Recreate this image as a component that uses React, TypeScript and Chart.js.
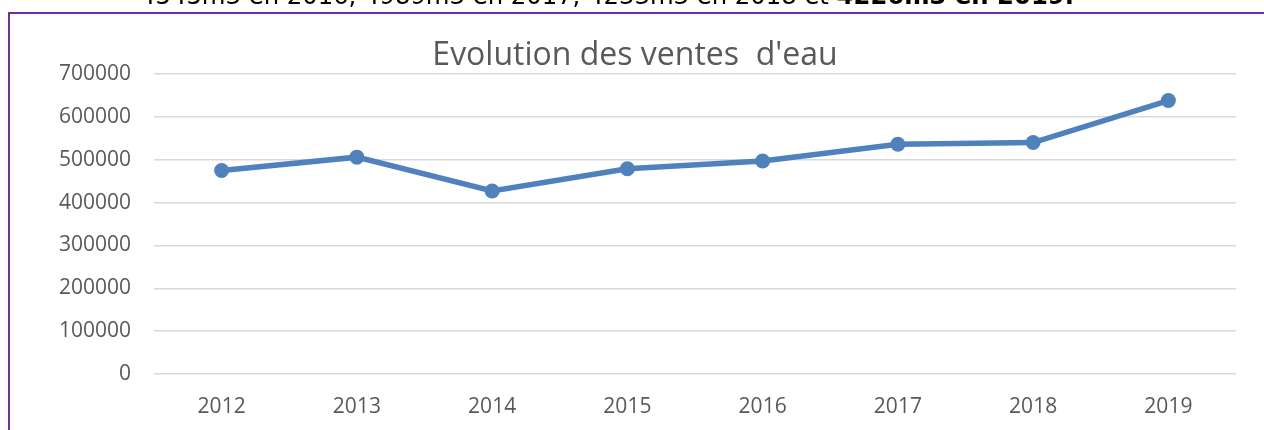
import React, { useEffect, useRef } from "react";
import { Chart, registerables } from "chart.js";

Chart.register(...registerables);

const years: string[] = ["2012", "2013", "2014", "2015", "2016", "2017", "2018", "2019"];
const sales: number[] = [475000, 506000, 427000, 479000, 497000, 536000, 540000, 638000];
const yMin = 0;
const yMax = 700000;
const yStep = 100000;
const chartTitle = "Evolution des ventes  d'eau";
const introText = "4545m3 en 2016, 4989m3 en 2017, 4233m3 en 2018 et ";
const introBold = "4226m3 en 2019.";

export default function App() {
  const ref = useRef<HTMLCanvasElement | null>(null);

  useEffect(() => {
    if (!ref.current) return;
    const chart = new Chart(ref.current, {
      type: "line",
      data: {
        labels: years,
        datasets: [
          {
            data: sales,
            borderColor: "#4F81BD",
            backgroundColor: "#4F81BD",
            borderWidth: 5.5,
            pointRadius: 7.5,
            pointBorderWidth: 0,
            pointBackgroundColor: "#4F81BD",
            tension: 0,
          },
        ],
      },
      options: {
        animation: false,
        responsive: false,
        maintainAspectRatio: false,
        layout: { padding: { left: 34, right: 28, top: 0, bottom: 0 } },
        plugins: {
          legend: { display: false },
          tooltip: { enabled: false },
          title: {
            display: true,
            text: chartTitle,
            color: "#595959",
            font: { family: "'Open Sans'", size: 32, weight: "normal", lineHeight: 1 },
            padding: { top: 40, bottom: 2 },
          },
        },
        scales: {
          x: {
            offset: true,
            grid: { display: false, drawTicks: false },
            border: { display: false },
            ticks: {
              color: "#595959",
              font: { family: "'Open Sans'", size: 21 },
              padding: 20,
              maxRotation: 0,
            },
            afterFit: (s: any) => {
              s.height = 56;
            },
          },
          y: {
            min: yMin,
            max: yMax,
            grid: { color: "#D9D9D9", lineWidth: 1.5, drawTicks: false },
            border: { display: false },
            ticks: {
              stepSize: yStep,
              color: "#595959",
              font: { family: "'Open Sans'", size: 21 },
              padding: 23,
              callback: (v: any) => String(v),
            },
            afterFit: (s: any) => {
              s.width = 120;
            },
          },
        },
      },
    });
    return () => chart.destroy();
  }, []);

  return (
    <div
      style={{
        position: "absolute",
        left: 0,
        top: 0,
        width: 1264,
        height: 430,
        overflow: "hidden",
        background: "#fff",
      }}
    >
      <canvas ref={ref} width={1264} height={430} style={{ position: "absolute", left: 0, top: 0 }} />
      <div
        style={{
          position: "absolute",
          left: 140,
          top: -16,
          whiteSpace: "nowrap",
          fontFamily: "'DejaVu Sans'",
          fontSize: 24.3,
          lineHeight: "24px",
          color: "#000",
        }}
      >
        {introText}
        <b>{introBold}</b>
      </div>
      <div style={{ position: "absolute", left: 8, top: 12, width: 1256, height: 2, background: "#7030A0" }} />
      <div style={{ position: "absolute", left: 8, top: 12, width: 2, height: 418, background: "#7030A0" }} />
    </div>
  );
}
